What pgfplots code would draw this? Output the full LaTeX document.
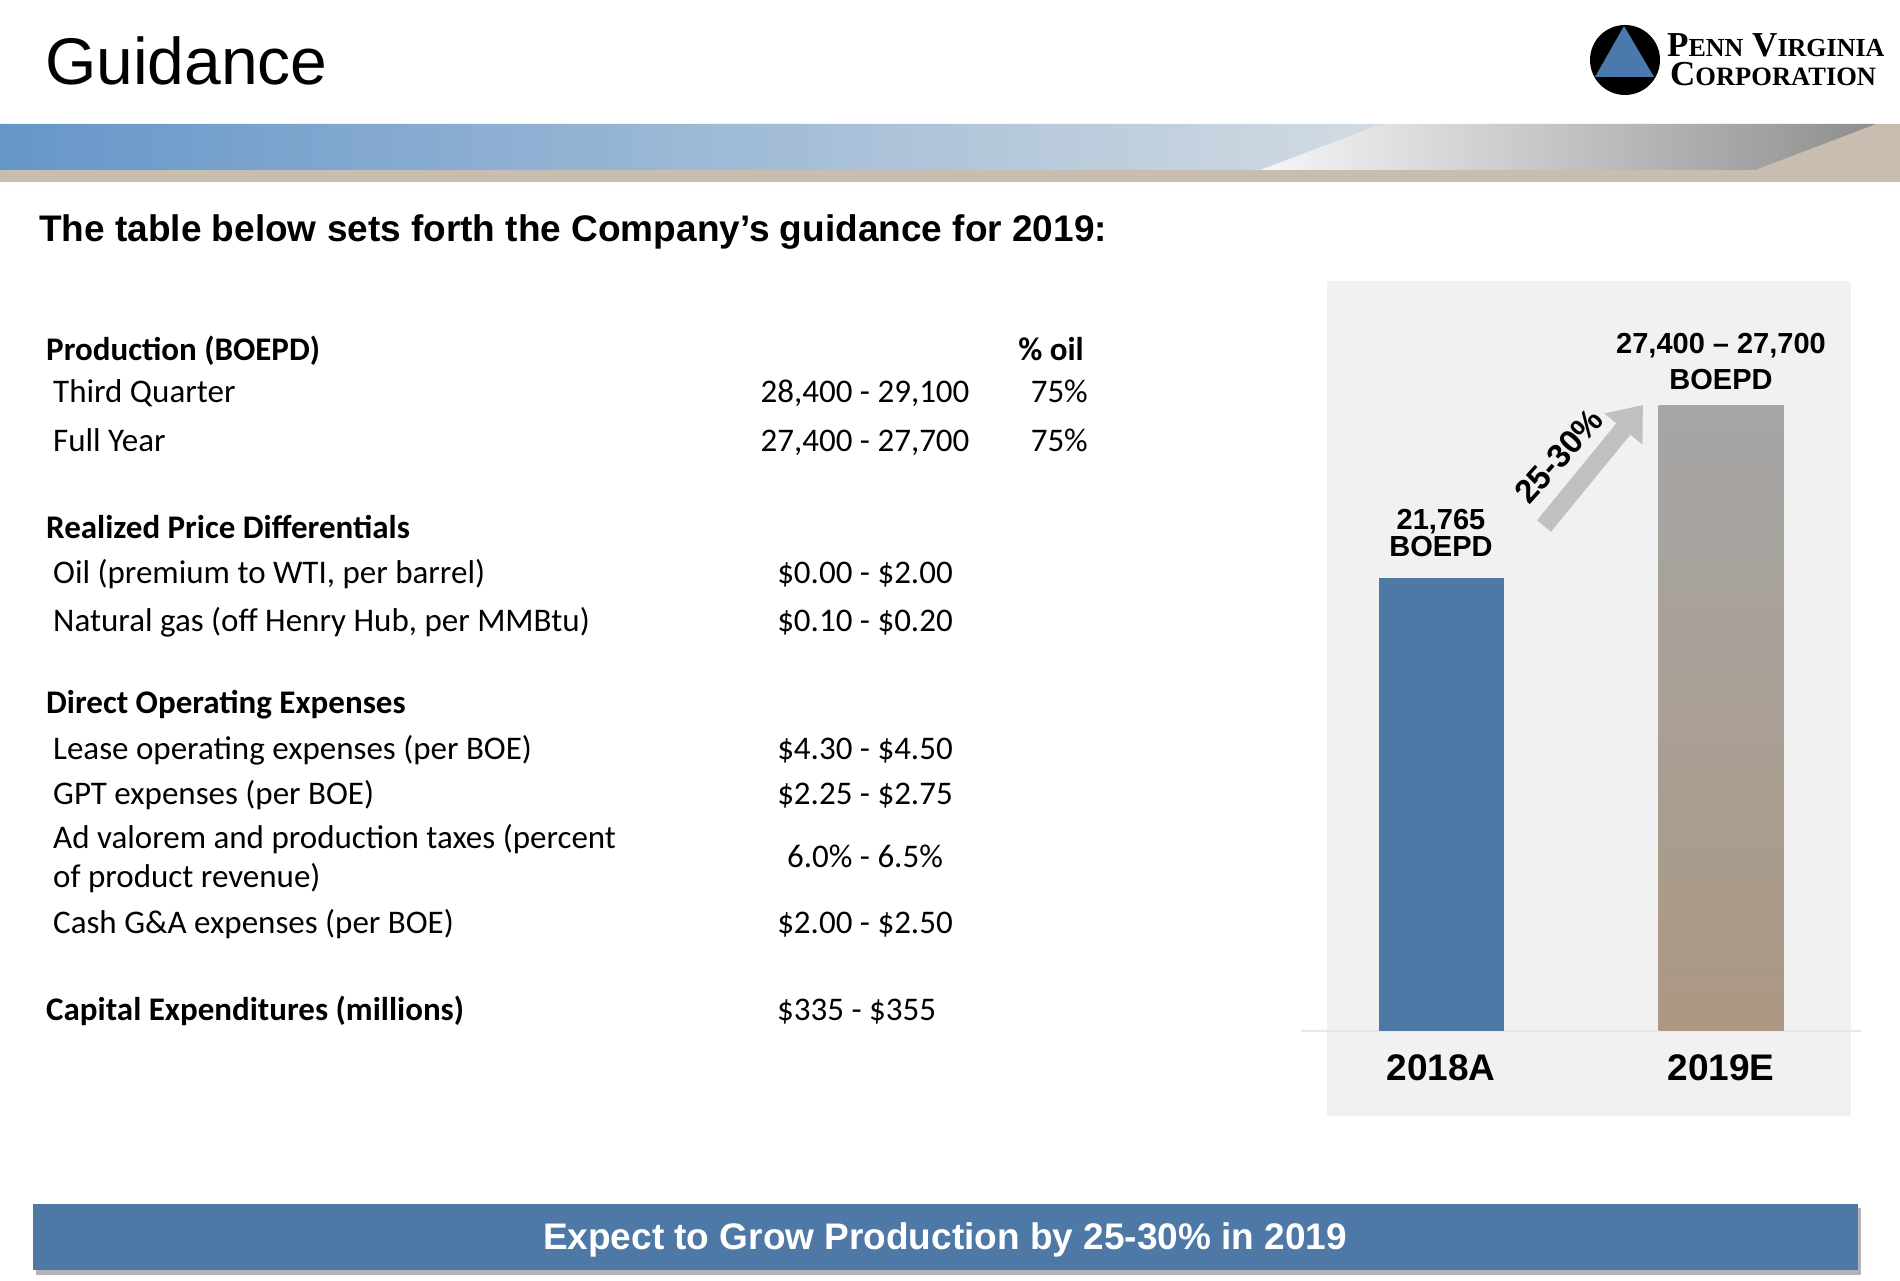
\documentclass[border=0pt]{standalone}
\usepackage{fontspec}
\setmainfont{Liberation Sans}
\newfontfamily\calibri{Carlito}
\newfontfamily\timesf{Liberation Serif}
\usepackage{pgfplots}
\pgfplotsset{compat=1.18}
\usetikzlibrary{arrows.meta}

\definecolor{panel}{HTML}{F1F1F1}
\definecolor{bluebar}{HTML}{4E79A7}
\definecolor{graytop}{HTML}{A6A6A6}
\definecolor{tanbot}{HTML}{AC9883}
\definecolor{arrowgray}{HTML}{C0C0C0}
\definecolor{bandtan}{HTML}{C9BDB0}
\definecolor{bandleft}{HTML}{6596C9}
\definecolor{bandright}{HTML}{D3DBE2}
\definecolor{glight}{HTML}{F6F6F6}
\definecolor{gdark}{HTML}{8E8E8E}
\definecolor{logoblue}{HTML}{4A79AE}
\definecolor{baseline}{HTML}{E8E8E8}

% table text, positions in pixels from the top left
\newcommand{\tl}[3]{\node[anchor=base west,inner sep=0pt] at ({#1},{1280-#2}) {\calibri\fontsize{33}{40}\selectfont #3};}
\newcommand{\tb}[3]{\node[anchor=base west,inner sep=0pt] at ({#1},{1280-#2}) {\calibri\bfseries\fontsize{33}{40}\selectfont #3};}
\newcommand{\tc}[3]{\node[anchor=base,inner sep=0pt] at ({#1},{1280-#2}) {\calibri\fontsize{33}{40}\selectfont #3};}
\newcommand{\tr}[3]{\node[anchor=base east,inner sep=0pt] at ({#1},{1280-#2}) {\calibri\fontsize{33}{40}\selectfont #3};}

\begin{document}
\begin{tikzpicture}[x=1pt,y=1pt]
\fill[white] (0,0) rectangle (1900,1280);

% header band
\fill[bandtan] (0,1098) rectangle (1900,1156);
\shade[left color=bandleft,right color=bandright] (0,1110) -- (1260,1110) -- (1381,1156) -- (0,1156) -- cycle;
\shade[left color=glight,right color=gdark] (1260,1110) -- (1755,1110) -- (1876,1156) -- (1381,1156) -- cycle;

% title
\node[anchor=base west,inner sep=0pt] at (45,{1280-85}) {\fontsize{66}{70}\selectfont Guidance};

% logo
\fill[black] (1625,1220) circle (35);
\fill[logoblue] (1624,1254) -- (1654,1203) -- (1595,1203) -- cycle;
\node[anchor=base west,inner sep=0pt] at (1667,1223) {\timesf\bfseries\fontsize{35}{35}\selectfont P{\fontsize{26}{26}\selectfont ENN} V{\fontsize{26}{26}\selectfont IRGINIA}};
\node[anchor=base west,inner sep=0pt] at (1670,1194) {\timesf\bfseries\fontsize{35}{35}\selectfont C{\fontsize{26.5}{26}\selectfont ORPORATION}};

% subtitle
\node[anchor=base west,inner sep=0pt] at (39,{1280-242}) {\bfseries\fontsize{37}{40}\selectfont The table below sets forth the Company’s guidance for 2019:};

% guidance table
\tb{46}{361}{Production (BOEPD)}
\node[anchor=base east,inner sep=0pt] at (1084,{1280-361}) {\calibri\bfseries\fontsize{33}{40}\selectfont \% oil};
\tl{53}{403}{Third Quarter}
\tc{865}{403}{28,400 - 29,100}
\tr{1088}{403}{75\%}
\tl{53}{452}{Full Year}
\tc{865}{452}{27,400 - 27,700}
\tr{1088}{452}{75\%}
\tb{46}{539}{Realized Price Differentials}
\tl{53}{584}{Oil (premium to WTI, per barrel)}
\tc{865}{584}{\$0.00 - \$2.00}
\tl{53}{632}{Natural gas (off Henry Hub, per MMBtu)}
\tc{865}{632}{\$0.10 - \$0.20}
\tb{46}{714}{Direct Operating Expenses}
\tl{53}{760}{Lease operating expenses (per BOE)}
\tc{865}{760}{\$4.30 - \$4.50}
\tl{53}{805}{GPT expenses (per BOE)}
\tc{865}{805}{\$2.25 - \$2.75}
\tl{53}{849}{Ad valorem and production taxes (percent}
\tl{53}{888}{of product revenue)}
\tc{865}{868}{6.0\% - 6.5\%}
\tl{53}{934}{Cash G\&A expenses (per BOE)}
\tc{865}{934}{\$2.00 - \$2.50}
\tb{46}{1021}{Capital Expenditures (millions)}
\tl{777}{1021}{\$335 - \$355}

% chart panel
\fill[panel] (1327,164) rectangle (1851,999);

\begin{axis}[
  at={(1301pt,249pt)}, anchor=south west,
  scale only axis, width=560pt, height=846.7pt,
  xmin=-0.5, xmax=1.5, ymin=6530, ymax=35000,
  axis y line=none, axis x line*=bottom,
  x axis line style={draw=baseline,line width=1.5pt,-},
  xtick={0,1}, xticklabels={2018A,2019E},
  major tick length=0pt, ytick=\empty,
  xticklabel style={font=\bfseries\fontsize{37}{40}\selectfont,inner sep=0pt,yshift=-23pt},
  ybar, bar width=125pt,
]
\addplot[bar shift=0pt,draw=none,fill=bluebar] coordinates {(0,21765)};
\addplot[bar shift=0pt,draw=none,top color=graytop,bottom color=tanbot] coordinates {(1,27550)};
\node[anchor=south,inner sep=0pt,align=center,yshift=21pt,font=\bfseries\fontsize{29}{27}\selectfont] at (axis cs:0,21765) {21,765\\BOEPD};
\node[anchor=south,inner sep=0pt,align=center,yshift=16pt,font=\bfseries\fontsize{29}{36}\selectfont] at (axis cs:1,27550) {27,400 – 27,700\\BOEPD};
\end{axis}

% growth arrow
\draw[arrowgray,line width=18pt,-{Triangle[width=47pt,length=31pt]}] (1544,754) -- (1643,875);
\node[rotate=48,inner sep=0pt,font=\bfseries\fontsize{33}{36}\selectfont] at (1559,824) {25-30\%};

% bottom banner
\fill[black!30] (36,5) rectangle (1861,72);
\fill[bluebar] (33,10) rectangle (1858,76);
\node[anchor=base,inner sep=0pt,white] at (945,{1280-1249}) {\bfseries\fontsize{37}{40}\selectfont Expect to Grow Production by 25-30\% in 2019};
\end{tikzpicture}
\end{document}
